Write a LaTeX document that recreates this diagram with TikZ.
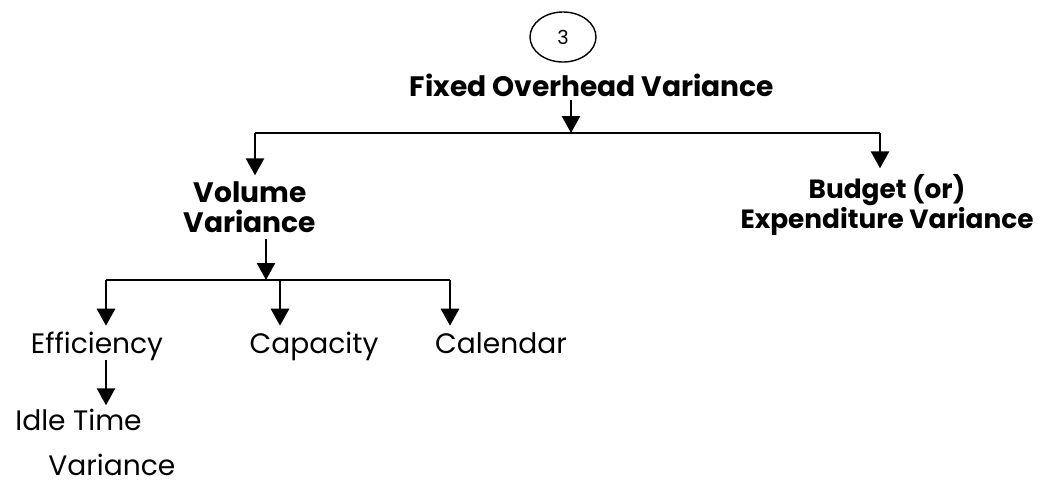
\documentclass[tikz,border=0pt]{standalone}
\usepackage{fontspec}
\setmainfont{Poppins}
\usetikzlibrary{arrows.meta,shapes.geometric}
\tikzset{
  arr/.style={line width=1.5pt,-{Triangle[width=0.36cm,length=0.34cm]}},
  bar/.style={line width=1.1pt},
  head/.style={font=\fontsize{16}{17}\selectfont\bfseries,align=center},
  leaf/.style={font=\fontsize{16}{17}\selectfont,text height=12pt,text depth=4pt},
}
\begin{document}
\begin{tikzpicture}
  \useasboundingbox (0,0) rectangle (20.78,-9.66);
  % number
  \node[draw,ellipse,line width=0.8pt,minimum width=1.32cm,minimum height=1cm,font=\fontsize{11}{12}\selectfont] (num) at (11.26,-0.74) {3};
  % fixed overhead
  \node[head] (fixed) at (11.84,-1.70) {Fixed Overhead Variance};
  \coordinate (topmid) at (11.42,-2.66);
  \coordinate (topL) at (5.10,-2.66);
  \coordinate (topR) at (17.60,-2.66);
  \draw[bar] (topL) -- (topR);
  \draw[arr,shorten <=-0.06cm] (fixed.south -| topmid) -- (topmid);
  % volume and budget
  \node[head] (volume) at (5.0,-4.14) {Volume\\Variance};
  \node[head,font=\fontsize{15}{17}\selectfont\bfseries] (budget) at (17.74,-4.10) {Budget (or)\\Expenditure Variance};
  \draw[arr] (topL) -- (topL |- volume.north);
  \draw[arr] (topR) -- (topR |- budget.north);
  % volume split
  \coordinate (lowmid) at (5.32,-5.6);
  \coordinate (lowL) at (2.12,-5.6);
  \coordinate (lowC) at (5.60,-5.6);
  \coordinate (lowR) at (9.00,-5.6);
  \draw[bar] (lowL) -- (lowR);
  \draw[arr] (volume.south -| lowmid) -- (lowmid);
  \node[leaf] (eff) at (1.94,-6.92) {Efficiency};
  \node[leaf] (cap) at (6.28,-6.92) {Capacity};
  \node[leaf] (cal) at (10.02,-6.92) {Calendar};
  \draw[arr] (lowL) -- (lowL |- eff.north);
  \draw[arr] (lowC) -- (lowC |- cap.north);
  \draw[arr] (lowR) -- (lowR |- cal.north);
  % idle time
  \node[font=\fontsize{16}{25.6}\selectfont,align=left,anchor=base west,inner sep=0pt] (idle) at (0.3,-9.5) {Idle Time\\\hspace*{0.66cm}Variance};
  \draw[arr,shorten <=-0.12cm,shorten >=0.06cm] (eff.south -| lowL) -- (idle.north -| lowL);
\end{tikzpicture}
\end{document}
